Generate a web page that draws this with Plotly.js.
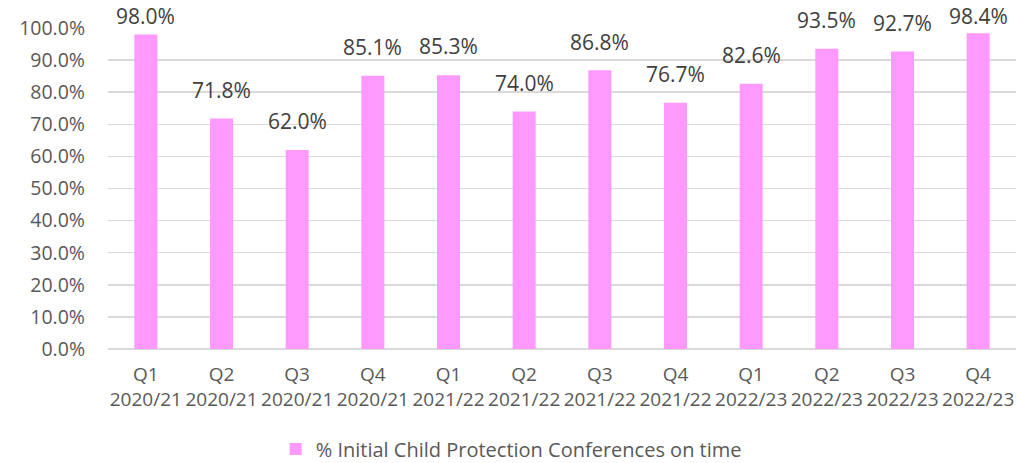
<!DOCTYPE html>
<html><head><meta charset="utf-8">
<script src="https://cdn.plot.ly/plotly-3.0.1.min.js"></script>
<style>body{margin:0;background:#fff}#chart{width:1018px;height:463px}</style>
</head><body><div id="chart"></div>
<script>
const quarters = ["Q1","Q2","Q3","Q4","Q1","Q2","Q3","Q4","Q1","Q2","Q3","Q4"];
const years = ["2020/21","2020/21","2020/21","2020/21","2021/22","2021/22","2021/22","2021/22","2022/23","2022/23","2022/23","2022/23"];
const values = [98.0, 71.8, 62.0, 85.1, 85.3, 74.0, 86.8, 76.7, 82.6, 93.5, 92.7, 98.4];
const seriesName = "% Initial Child Protection Conferences on time";

const cats = quarters.map((q,i)=>q+"<br>"+years[i]);
const font = "'Open Sans', sans-serif";
// data labels placed above bars, kept inside the chart area like the original
const labelAnns = values.map((v,i)=>({
  x: cats[i], y: Math.min(v + 4.0, 98.6), xref:"x", yref:"y",
  text: v.toFixed(1)+"%", showarrow:false, yanchor:"bottom",
  font:{family:font,size:21,color:"#404040"}
}));
Plotly.newPlot("chart", [{
  type:"bar", x: cats, y: values, name: seriesName,
  marker:{color:"#FF99FF"},
  width:0.304,
  showlegend:true
}], {
  width:1018, height:463,
  margin:{l:108,r:2,t:28,b:114,autoexpand:false},
  paper_bgcolor:"#fff", plot_bgcolor:"#fff",
  font:{family:font,size:18,color:"#595959"},
  annotations: labelAnns,
  xaxis:{type:"category", automargin:false, tickfont:{size:19,color:"#595959"}, showgrid:false, zeroline:false, showline:false, ticks:"", tickangle:0, ticklabelstandoff:12},
  yaxis:{range:[0,100], automargin:false, dtick:10, tickformat:".1f", ticksuffix:"%", gridcolor:"#D9D9D9", gridwidth:1.5, zeroline:true, zerolinecolor:"#D9D9D9", zerolinewidth:1.5, showline:false, ticks:"", ticklabelstandoff:22, tickfont:{size:19.5,color:"#595959"}},
  showlegend:true,
  legend:{orientation:"h", x:0.444, xanchor:"center", xref:"paper", y:-0.3115, yanchor:"middle", font:{size:20,color:"#595959"}}
}, {displayModeBar:false, staticPlot:true});
</script></body></html>
